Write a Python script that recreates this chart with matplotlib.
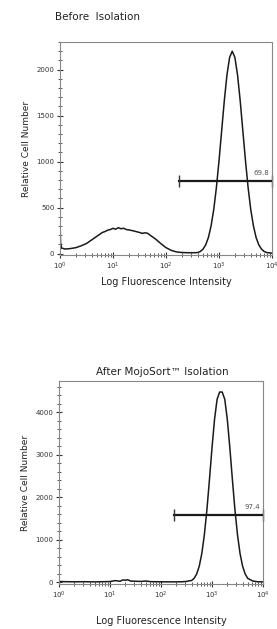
import matplotlib
matplotlib.use("Agg")
import matplotlib.pyplot as plt
from matplotlib.ticker import MultipleLocator, LogLocator, LogFormatterMathtext, NullFormatter

# --- data (log10 of intensity, relative cell number) ---
before_logx = [0.00, 0.01, 0.03, 0.10, 0.20, 0.30, 0.40, 0.50, 0.60, 0.70, 0.80, 0.85,
               0.90, 0.95, 1.00, 1.05, 1.10, 1.15, 1.20, 1.25, 1.30, 1.40, 1.50, 1.55,
               1.60, 1.65, 1.70, 1.80, 1.90, 2.00, 2.10, 2.20, 2.30, 2.40, 2.50, 2.55,
               2.60, 2.65, 2.70, 2.75, 2.80, 2.85, 2.90, 2.95, 3.00, 3.05, 3.10, 3.15,
               3.20, 3.25, 3.30, 3.35, 3.40, 3.45, 3.50, 3.55, 3.60, 3.65, 3.70, 3.75,
               3.80, 3.85, 3.90, 3.95, 4.00]
before_count = [380, 120, 60, 50, 55, 65, 85, 110, 150, 190, 230, 240,
                255, 262, 275, 265, 282, 270, 276, 262, 258, 245, 230, 220,
                226, 222, 200, 160, 110, 65, 35, 18, 12, 10, 10, 10,
                12, 24, 50, 97, 175, 300, 476, 714, 1007, 1334, 1661, 1941,
                2132, 2200, 2132, 1941, 1661, 1334, 1007, 714, 476, 300, 175, 97,
                50, 24, 12, 8, 5]

after_logx = [0.00, 0.10, 0.30, 0.50, 0.70, 0.90, 1.00, 1.10, 1.20, 1.25, 1.30, 1.35,
              1.40, 1.50, 1.60, 1.70, 1.80, 2.00, 2.20, 2.40, 2.50, 2.55, 2.60, 2.65,
              2.70, 2.75, 2.80, 2.85, 2.90, 2.95, 3.00, 3.05, 3.10, 3.15, 3.20, 3.25,
              3.30, 3.35, 3.40, 3.45, 3.50, 3.55, 3.60, 3.65, 3.70, 3.80, 3.90, 4.00]
after_count = [20, 15, 12, 14, 10, 15, 18, 40, 25, 55, 50, 60,
               30, 25, 20, 30, 15, 12, 10, 12, 20, 35, 42, 94,
               197, 379, 676, 1117, 1707, 2416, 3166, 3839, 4310, 4480, 4480, 4310,
               3839, 3166, 2416, 1707, 1117, 676, 379, 197, 94, 30, 12, 10]

before_gate = [178, 10000]
before_gate_y = 790
before_gate_label = "69.8"
after_gate = [178, 10000]
after_gate_y = 1590
after_gate_label = "97.4"

before_ylim = (-15, 2300)
after_ylim = (-40, 4740)
before_yticks = [0, 500, 1000, 1500, 2000]
after_yticks = [0, 1000, 2000, 3000, 4000]

W, H = 277, 629
fig = plt.figure(figsize=(W / 100, H / 100), dpi=100)

spine_col = "#888888"
line_col = "#1a1a1a"


def panel(rect, logx, count, gate, gate_y, gate_label, ylim, yticks, yminor):
    ax = fig.add_axes(rect)
    xs = [10 ** v for v in logx]
    ax.plot(xs, count, color=line_col, lw=1.1)
    ax.set_xscale("log")
    ax.set_xlim(1, 1e4)
    ax.set_ylim(*ylim)
    ax.set_yticks(yticks)
    ax.yaxis.set_minor_locator(MultipleLocator(yminor))
    ax.xaxis.set_major_locator(LogLocator(base=10, numticks=10))
    ax.xaxis.set_major_formatter(LogFormatterMathtext())
    ax.xaxis.set_minor_locator(LogLocator(base=10, subs=range(2, 10), numticks=20))
    ax.xaxis.set_minor_formatter(NullFormatter())
    for s in ax.spines.values():
        s.set_color(spine_col)
        s.set_linewidth(0.8)
    ax.tick_params(which="major", direction="inout", length=4, width=0.8,
                   color="#333333", labelsize=5, labelcolor="#333333", pad=2)
    ax.tick_params(which="minor", direction="inout", length=2.2, width=0.6,
                   color="#444444")
    # gate bar
    ax.plot(gate, [gate_y, gate_y], color=line_col, lw=1.6)
    ax.plot(gate, [gate_y, gate_y], ls="none", marker="|", ms=8, mew=1.0,
            color="#333333", clip_on=False)
    ax.text(gate[1] / 1.12, gate_y + (ylim[1] - ylim[0]) * 0.025, gate_label,
            ha="right", va="bottom", fontsize=5, color="#555555")
    ax.set_ylabel("Relative Cell Number", fontsize=6.5, color="#222222", labelpad=4)
    ax.set_xlabel("Log Fluorescence Intensity", fontsize=7, color="#222222", labelpad=4)
    return ax


ax1 = panel([60 / W, 1 - 255 / H, 212 / W, 213 / H], before_logx, before_count,
            before_gate, before_gate_y, before_gate_label, before_ylim,
            before_yticks, 100)
ax2 = panel([59 / W, 1 - 584 / H, 204 / W, 203 / H], after_logx, after_count,
            after_gate, after_gate_y, after_gate_label, after_ylim,
            after_yticks, 200)
ax2.xaxis.labelpad = 11

fig.text(55 / W, 1 - 17 / H, "Before  Isolation", ha="left", va="center",
         fontsize=7.5, color="#222222")
fig.text(162 / W, 1 - 372 / H, "After MojoSort\u2122 Isolation", ha="center",
         va="center", fontsize=7.5, color="#222222")

fig.savefig("out.png", dpi=100, facecolor="white")
